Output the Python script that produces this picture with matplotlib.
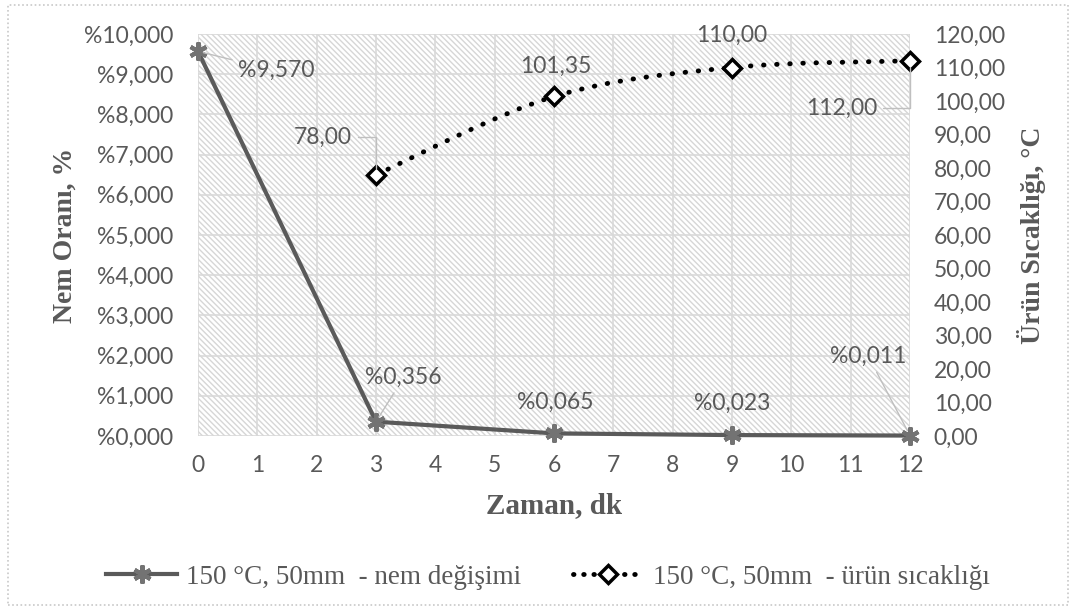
import matplotlib
matplotlib.use("Agg")
import matplotlib.pyplot as plt
from matplotlib.path import Path
from matplotlib.patches import PathPatch, Rectangle
from matplotlib.lines import Line2D
from matplotlib.ticker import FuncFormatter, MultipleLocator

# ---- data ----
time_min = [0, 3, 6, 9, 12]
moisture_pct = [9.570, 0.356, 0.065, 0.023, 0.011]
temp_time = [3, 6, 9, 12]
temp_c = [78.00, 101.35, 110.00, 112.00]
moisture_labels = ["%9,570", "%0,356", "%0,065", "%0,023", "%0,011"]
temp_labels = ["78,00", "101,35", "110,00", "112,00"]
legend_labels = ["150 °C, 50mm  - nem değişimi", "150 °C, 50mm  - ürün sıcaklığı"]
xlabel = "Zaman, dk"
ylabel_left = "Nem Oranı, %"
ylabel_right = "Ürün Sıcaklığı, °C"

GRAY = "#595959"
LINE_GRAY = "#5a5a5a"
GRID = "#d9d9d9"
TICKFONT = "Lato"
SERIF = "Liberation Serif"
TFS = 16.5

plt.rcParams["hatch.linewidth"] = 1.0
plt.rcParams["hatch.color"] = "#d6d6d6"

fig = plt.figure(figsize=(10.74, 6.09), dpi=100)
ax = fig.add_axes([198 / 1074, 1 - 436 / 609, (910 - 198) / 1074, (436 - 34) / 609])
ax2 = ax.twinx()

# hatched plot area background
ax.add_patch(Rectangle((0, 0), 1, 1, transform=ax.transAxes, facecolor="white",
                       edgecolor="#d6d6d6", hatch="\\\\\\\\\\\\", linewidth=0, zorder=0))

ax.set_xlim(0, 12)
ax.set_ylim(0, 10)
ax2.set_ylim(0, 120)
ax.xaxis.set_major_locator(MultipleLocator(1))
ax.yaxis.set_major_locator(MultipleLocator(1))
ax2.yaxis.set_major_locator(MultipleLocator(10))
ax.grid(True, color=GRID, linewidth=1.2, zorder=1)
ax.set_axisbelow(True)

for a in (ax, ax2):
    for s in a.spines.values():
        s.set_visible(False)
    a.tick_params(length=0, colors=GRAY, labelsize=TFS)

ax.yaxis.set_major_formatter(FuncFormatter(lambda v, p: "%" + f"{v:.3f}".replace(".", ",")))
ax2.yaxis.set_major_formatter(FuncFormatter(lambda v, p: f"{v:.2f}".replace(".", ",")))
ax.tick_params(axis="y", pad=18)
ax.tick_params(axis="x", pad=14)
ax2.tick_params(axis="y", pad=17)
for lab in ax.get_yticklabels() + ax2.get_yticklabels() + ax.get_xticklabels():
    lab.set_fontfamily(TICKFONT)

ax.set_xlabel(xlabel, fontfamily=SERIF, fontweight="bold", fontsize=21, color=GRAY, labelpad=11)
ax.set_ylabel(ylabel_left, fontfamily=SERIF, fontweight="bold", fontsize=20, color=GRAY, labelpad=4)
ax2.set_ylabel(ylabel_right, fontfamily=SERIF, fontweight="bold", fontsize=20, color=GRAY, labelpad=9)

# moisture series
ax.plot(time_min, moisture_pct, color=LINE_GRAY, linewidth=3, marker=(6, 2, 0),
        markersize=13, markeredgewidth=3, markeredgecolor="#737373", zorder=5, clip_on=False)

# temperature series: smoothed Bezier (Excel-style) through the data points
pts = list(zip(temp_time, temp_c))
verts = [pts[0]]
codes = [Path.MOVETO]
n = len(pts)
for i in range(n - 1):
    p0 = pts[i - 1] if i > 0 else pts[i]
    p1 = pts[i]
    p2 = pts[i + 1]
    p3 = pts[i + 2] if i + 2 < n else pts[i + 1]
    c1 = (p1[0] + (p2[0] - p0[0]) / 6, p1[1] + (p2[1] - p0[1]) / 6)
    c2 = (p2[0] - (p3[0] - p1[0]) / 6, p2[1] - (p3[1] - p1[1]) / 6)
    verts += [c1, c2, p2]
    codes += [Path.CURVE4] * 3
curve = PathPatch(Path(verts, codes), facecolor="none", edgecolor="black", linewidth=3.5,
                  linestyle=(0, (0.1, 2.6)), capstyle="round", zorder=4)
curve.set_clip_on(False)
ax2.add_patch(curve)
ax2.plot(temp_time, temp_c, linestyle="none", marker="D", markersize=9, markerfacecolor="white",
         markeredgecolor="black", markeredgewidth=2.5, zorder=6, clip_on=False)

# data labels
lab_kw = dict(fontfamily=TICKFONT, fontsize=TFS, color=GRAY, ha="center", va="center",
              textcoords="offset points")
straight = dict(arrowstyle="-", color="#bfbfbf", linewidth=1, shrinkA=2, shrinkB=4)
elbow = dict(arrowstyle="-", color="#bfbfbf", linewidth=1, shrinkA=2, shrinkB=5,
             connectionstyle="angle,angleA=0,angleB=90,rad=0")
m_offsets = [(56, -14), (20, 32), (1, 22), (0, 23), (-30, 57)]
m_lead = [straight, straight, None, None, straight]
for x, y, t, off, ld in zip(time_min, moisture_pct, moisture_labels, m_offsets, m_lead):
    ax.annotate(t, (x, y), xytext=off, arrowprops=ld, zorder=7, **lab_kw)

t_offsets = [(-38, 27), (1, 22), (0, 23), (-49, -34)]
t_lead = [elbow, None, None, elbow]
for x, y, t, off, ld in zip(temp_time, temp_c, temp_labels, t_offsets, t_lead):
    ax2.annotate(t, (x, y), xytext=off, arrowprops=ld, zorder=7, **lab_kw)

# legend
h1 = Line2D([], [], color=LINE_GRAY, linewidth=3, marker=(6, 2, 0), markersize=13,
            markeredgewidth=3, markeredgecolor="#737373")
h2 = Line2D([], [], color="black", linewidth=3.5, linestyle=(0, (0.1, 2.0)),
            dash_capstyle="round", marker="D", markersize=9, markerfacecolor="white",
            markeredgecolor="black", markeredgewidth=2.5)
leg = fig.legend([h1, h2], legend_labels, loc="center", bbox_to_anchor=(548 / 1074, 1 - 577 / 609),
                 ncol=2, frameon=False, prop={"family": SERIF, "size": 19.5},
                 handlelength=2.6, handletextpad=0.35, columnspacing=1.9)
for t in leg.get_texts():
    t.set_color(GRAY)

# dotted outer border
fig.add_artist(Rectangle((8 / 1074, 4 / 609), 1060 / 1074, 600 / 609, transform=fig.transFigure,
                         facecolor="none", edgecolor="#c8c8c8", linewidth=1.2,
                         linestyle=(0, (1, 1.5))))

fig.savefig("out.png", dpi=100)
